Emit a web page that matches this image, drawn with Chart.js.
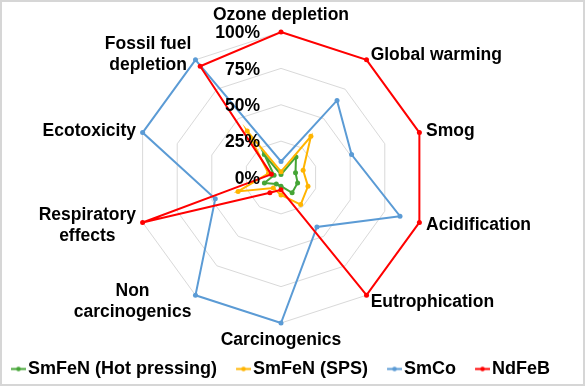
<!DOCTYPE html>
<html>
<head>
<meta charset="utf-8">
<script src="https://cdn.jsdelivr.net/npm/chart.js@4.4.1/dist/chart.umd.min.js"></script>
<style>
  html, body { margin: 0; padding: 0; background: #fff; }
  #wrap { width: 585px; height: 386px; }
</style>
</head>
<body>
<div id="wrap"><canvas id="radarChart" width="585" height="386"></canvas></div>
<script>
// Impact categories (clockwise from the top)
var categories = [
  'Ozone depletion', 'Global warming', 'Smog', 'Acidification', 'Eutrophication',
  'Carcinogenics', ['Non', 'carcinogenics'], ['Respiratory', 'effects'], 'Ecotoxicity',
  ['Fossil fuel', 'depletion']
];

// Relative impact of each magnet, in %
var smfenHotPressing = [2, 17.5, 10.5, 12, 13, 6, 5.5, 12, 5, 19.5];
var smfenSPS = [4, 35, 16, 19.5, 23, 12, 9, 31, 9, 39.5];
var smco = [11, 65.5, 51, 86, 42, 100, 100, 47.5, 100, 100];
var ndfeb = [100, 100, 100, 100, 100, 8.5, 13, 100, 7, 94.5];

var tickValues = [0, 25, 50, 75, 100];
var tickLabels = ['0%', '25%', '50%', '75%', '100%'];

var seriesNames = ['SmFeN (Hot pressing)', 'SmFeN (SPS)', 'SmCo', 'NdFeB'];
var seriesColors = ['#45A536', '#FFB400', '#5B9BD5', '#FF0000'];

var labelFont = 'bold 17.5px "Liberation Sans", Arial, sans-serif';

// little "line with a dot" marker for the legend
function legendMarker(color) {
  var c = document.createElement('canvas');
  c.width = 22;
  c.height = 7;
  var g = c.getContext('2d');
  g.strokeStyle = color;
  g.lineWidth = 2;
  g.beginPath();
  g.moveTo(7, 3.5);
  g.lineTo(22, 3.5);
  g.stroke();
  g.fillStyle = color;
  g.beginPath();
  g.arc(14.5, 3.5, 2.3, 0, Math.PI * 2);
  g.fill();
  return c;
}

// Place the radar like in the Excel picture and draw labels the Excel way
var radarLayout = {
  id: 'radarLayout',
  beforeDraw: function (chart) {
    var ctx = chart.ctx;
    ctx.save();
    ctx.fillStyle = '#fff';
    ctx.fillRect(0, 0, chart.width, chart.height);
    ctx.strokeStyle = '#d6d6d6';
    ctx.lineWidth = 2;
    ctx.strokeRect(1, 1, chart.width - 2, chart.height - 2);
    ctx.restore();
  },
  afterLayout: function (chart) {
    var s = chart.scales.r;
    s.xCenter = 281;
    s.yCenter = 177.5;
    s.drawingArea = 145.5;
  },
  afterDraw: function (chart) {
    var s = chart.scales.r;
    var ctx = chart.ctx;
    ctx.save();
    ctx.font = labelFont;
    ctx.fillStyle = '#000';
    ctx.textBaseline = 'middle';

    // tick labels, left of the vertical axis
    ctx.textAlign = 'right';
    for (var t = 0; t < tickValues.length; t++) {
      var d = s.getDistanceFromCenterForValue(tickValues[t]);
      ctx.fillText(tickLabels[t], s.xCenter - 21, s.yCenter - d + 1.5);
    }

    // category labels
    var lineH = 21;
    for (var i = 0; i < categories.length; i++) {
      var lines = [].concat(categories[i]);
      var p = s.getPointPosition(i, s.drawingArea + 7);
      var a = s.getIndexAngle(i);
      var sn = Math.sin(a), cs = Math.cos(a);
      var w = 0;
      lines.forEach(function (l) { w = Math.max(w, ctx.measureText(l).width); });
      var h = lines.length * lineH;
      var cx, top;
      if (Math.abs(sn) < 0.01) cx = p.x;
      else if (sn > 0) cx = p.x + w / 2;
      else cx = p.x - w / 2;
      if (Math.abs(sn) < 0.01 && cs > 0) top = p.y - h + 1;
      else if (Math.abs(sn) < 0.01) top = p.y;
      else top = p.y - h / 2 + 1;
      ctx.textAlign = 'center';
      for (var k = 0; k < lines.length; k++) {
        ctx.fillText(lines[k], cx, top + lineH * k + lineH / 2);
      }
    }
    ctx.restore();
  }
};

var allSeries = [smfenHotPressing, smfenSPS, smco, ndfeb];
var datasets = allSeries.map(function (vals, i) {
  return {
    label: seriesNames[i],
    data: vals,
    borderColor: seriesColors[i],
    backgroundColor: seriesColors[i],
    pointBackgroundColor: seriesColors[i],
    pointBorderWidth: 0,
    pointRadius: 2.5,
    borderWidth: 2,
    fill: false,
    order: 3 - i
  };
});

var ctx = document.getElementById('radarChart').getContext('2d');
var impactChart = new Chart(ctx, {
  type: 'radar',
  data: { labels: categories, datasets: datasets },
  options: {
    responsive: false,
    animation: false,
    devicePixelRatio: 1,
    layout: { padding: { bottom: -2, left: -8 } },
    plugins: {
      tooltip: { enabled: false },
      legend: {
        position: 'bottom',
        align: 'start',
        labels: {
          usePointStyle: true,
          pointStyleWidth: 8,
          padding: 19,
          color: '#000',
          font: { family: '"Liberation Sans", Arial, sans-serif', size: 18, weight: 'bold' },
          sort: function (a, b) { return a.datasetIndex - b.datasetIndex; },
          generateLabels: function (chart) {
            var items = Chart.defaults.plugins.legend.labels.generateLabels(chart);
            items.forEach(function (it) {
              it.pointStyle = legendMarker(seriesColors[it.datasetIndex]);
            });
            return items;
          }
        }
      }
    },
    scales: {
      r: {
        min: 0,
        max: 100,
        ticks: { stepSize: 25, display: false },
        grid: { color: '#d9d9d9', lineWidth: 1 },
        angleLines: { display: false },
        pointLabels: { display: false }
      }
    }
  },
  plugins: [radarLayout]
});
</script>
</body>
</html>
